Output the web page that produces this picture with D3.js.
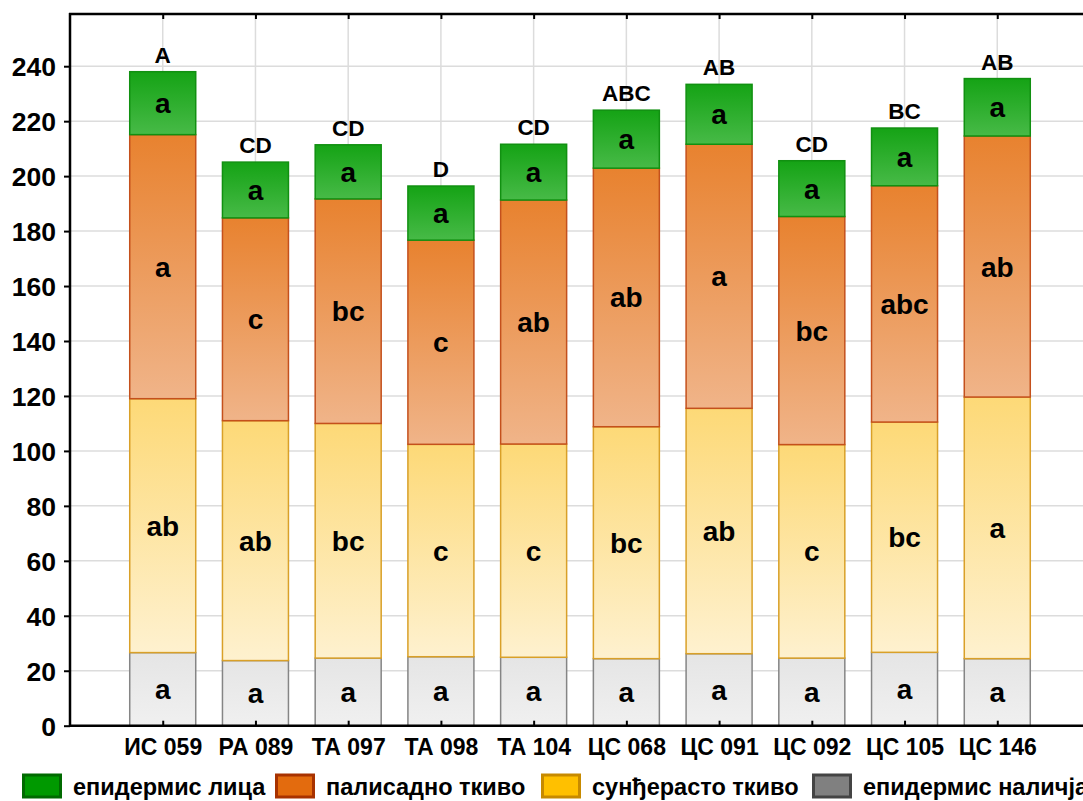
<!DOCTYPE html>
<html><head><meta charset="utf-8">
<script src="https://cdn.jsdelivr.net/npm/d3@7"></script>
<style>body{margin:0;background:#fff;} svg{display:block;font-family:"Liberation Sans",Arial,sans-serif;font-weight:bold;}</style>
</head><body>
<svg id="c" width="1083" height="801"></svg>
<script>
const categories = ["ИС 059","РА 089","ТА 097","ТА 098","ТА 104","ЦС 068","ЦС 091","ЦС 092","ЦС 105","ЦС 146"];
// segment values
const epidermisNalicja = [26.6, 23.7, 24.6, 25.1, 24.9, 24.4, 26.2, 24.6, 26.7, 24.4];
const sundjerasto = [92.4, 87.3, 85.4, 77.3, 77.6, 84.4, 89.3, 77.7, 83.8, 95.2];
const palisadno = [96.1, 73.8, 81.7, 74.3, 88.8, 94.1, 96.1, 83.0, 86.0, 95.0];
const epidermisLica = [22.9, 20.3, 19.7, 19.7, 20.3, 21.1, 21.8, 20.3, 21.0, 20.9];
const lettersLica = ["a","a","a","a","a","a","a","a","a","a"];
const lettersPalisadno = ["a","c","bc","c","ab","ab","a","bc","abc","ab"];
const lettersSundjerasto = ["ab","ab","bc","c","c","bc","ab","c","bc","a"];
const lettersNalicja = ["a","a","a","a","a","a","a","a","a","a"];
const totalLetters = ["A","CD","CD","D","CD","ABC","AB","CD","BC","AB"];
const yTicks = [0,20,40,60,80,100,120,140,160,180,200,220,240];
const seriesNames = ["епидермис лица","палисадно ткиво","сунђерасто ткиво","епидермис наличја"];

const svg = d3.select("#c");
const x = d3.scalePoint().domain(categories).range([70, 1090]).padding(1);
const y = d3.scaleLinear().domain([0, 259]).range([725.7, 14]);
const barW = 66;

const segs = [
  {vals: epidermisNalicja, letters: lettersNalicja, g: ["#e5e5e5","#f0f0f0"], stroke:"#858585", id:"gGray"},
  {vals: sundjerasto, letters: lettersSundjerasto, g: ["#fdd977","#fef1cf"], stroke:"#d9a028", id:"gYel"},
  {vals: palisadno, letters: lettersPalisadno, g: ["#e8822f","#f0b489"], stroke:"#c4501c", id:"gOr"},
  {vals: epidermisLica, letters: lettersLica, g: ["#15a315","#47ba47"], stroke:"#119011", id:"gGr"}
];
const defs = svg.append("defs");
segs.forEach(s=>{
  const lg = defs.append("linearGradient").attr("id", s.id).attr("x1",0).attr("y1",0).attr("x2",0).attr("y2",1);
  lg.append("stop").attr("offset","0%").attr("stop-color", s.g[0]);
  lg.append("stop").attr("offset","100%").attr("stop-color", s.g[1]);
});

// grid
svg.append("g").selectAll("line.h").data(yTicks.filter(t=>t>0)).join("line")
  .attr("x1",70).attr("x2",1083).attr("y1",d=>y(d)).attr("y2",d=>y(d))
  .attr("stroke","#dcdcdc").attr("stroke-width",1.5);
svg.append("g").selectAll("line.v").data(categories).join("line")
  .attr("x1",d=>x(d)).attr("x2",d=>x(d)).attr("y1",14).attr("y2",725.7)
  .attr("stroke","#dcdcdc").attr("stroke-width",1.5);

// stacked bars
const stackData = categories.map((c,i)=>({c, v0:epidermisNalicja[i], v1:sundjerasto[i], v2:palisadno[i], v3:epidermisLica[i]}));
const stack = d3.stack().keys(["v0","v1","v2","v3"])(stackData);
stack.forEach((layer, li)=>{
  const s = segs[li];
  const g = svg.append("g");
  g.selectAll("rect").data(layer).join("rect")
    .attr("x", d=>x(d.data.c)-barW/2).attr("width", barW)
    .attr("y", d=>y(d[1])).attr("height", d=>y(d[0])-y(d[1]))
    .attr("fill", `url(#${s.id})`).attr("stroke", s.stroke).attr("stroke-width",1.5);
  g.selectAll("text").data(layer).join("text")
    .attr("x", d=>x(d.data.c)).attr("y", d=>(y(d[0])+y(d[1]))/2 + 10)
    .attr("text-anchor","middle").attr("font-size",28).attr("fill","#000")
    .text((d,i)=>s.letters[i]);
});
// total letters
svg.append("g").selectAll("text").data(stack[3]).join("text")
  .attr("x", d=>x(d.data.c)).attr("y", d=>y(d[1]) - 9)
  .attr("text-anchor","middle").attr("font-size",22.5).text((d,i)=>totalLetters[i]);

// axes frame
const yAxis = d3.axisLeft(y).tickValues(yTicks).tickSize(6).tickPadding(8);
const ya = svg.append("g").attr("transform","translate(70,0)").call(yAxis);
ya.select(".domain").remove();
ya.selectAll("line").attr("stroke","#000").attr("stroke-width",2);
ya.selectAll("text").attr("font-size",26.5).attr("font-family","Liberation Sans, Arial").attr("font-weight","bold").attr("fill","#000").attr("dy","0.36em");

const xb = svg.append("g").attr("transform","translate(0,725.7)").call(d3.axisBottom(x).tickSize(-5).tickPadding(13));
xb.select(".domain").remove();
xb.selectAll("line").attr("stroke","#000").attr("stroke-width",2);
xb.selectAll("text").attr("font-size",23).attr("font-family","Liberation Sans, Arial").attr("font-weight","bold").attr("fill","#000");
const xt = svg.append("g").attr("transform","translate(0,14)").call(d3.axisTop(x).tickSize(-5).tickFormat(""));
xt.select(".domain").remove();
xt.selectAll("line").attr("stroke","#000").attr("stroke-width",2);

svg.append("line").attr("x1",69).attr("x2",1083).attr("y1",14).attr("y2",14).attr("stroke","#000").attr("stroke-width",2.5);
svg.append("line").attr("x1",69).attr("x2",1083).attr("y1",725.7).attr("y2",725.7).attr("stroke","#000").attr("stroke-width",2.5);
svg.append("line").attr("x1",70).attr("x2",70).attr("y1",13).attr("y2",727).attr("stroke","#000").attr("stroke-width",2.5);

// legend
const legFill = ["#009900","#e36b0e","#ffc000","#808080"];
const legStroke = ["#006a00","#a83200","#c78a00","#444444"];
const legX = [22, 275, 541, 812];
const leg = svg.append("g");
seriesNames.forEach((n,i)=>{
  leg.append("rect").attr("x",legX[i]+1.5).attr("y",775).attr("width",37).attr("height",22)
    .attr("fill",legFill[i]).attr("stroke",legStroke[i]).attr("stroke-width",3);
  leg.append("text").attr("x",legX[i]+51).attr("y",795).attr("font-size",23.5).text(n);
});
</script>
</body></html>
